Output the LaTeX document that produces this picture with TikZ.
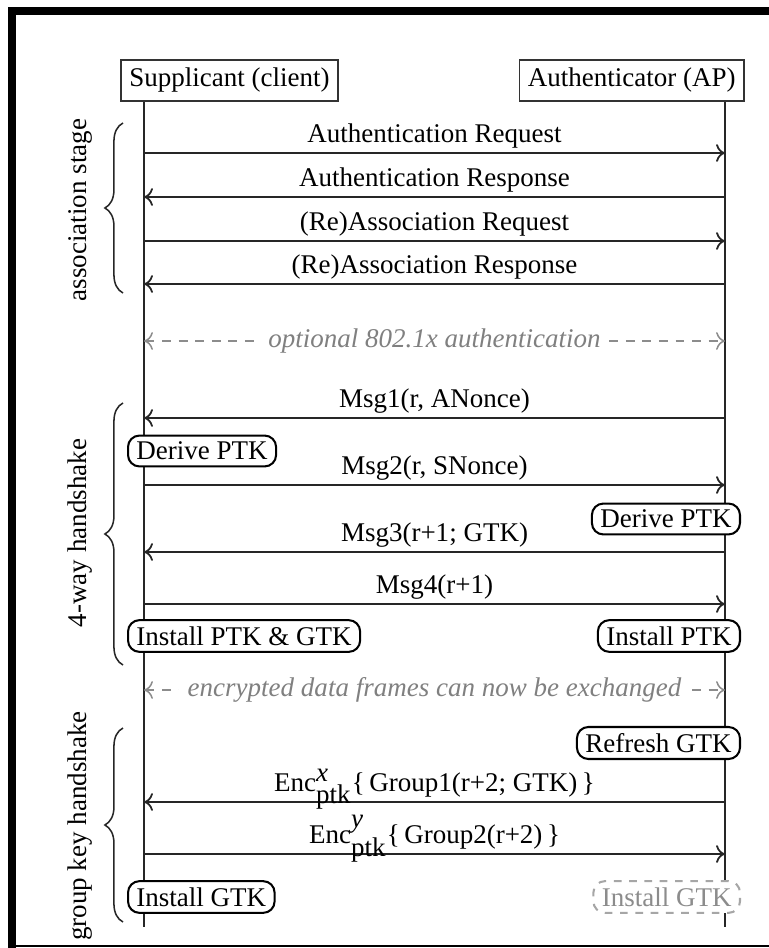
\documentclass[tikz,border=0pt]{standalone}
\usepackage{fontspec}
\setmainfont{Liberation Serif}
\usetikzlibrary{arrows.meta, positioning, decorations.pathreplacing, calc}

\newcommand{\seqfont}{\fontsize{10.6}{12}\selectfont}

\begin{document}
\begin{tikzpicture}[
  x=0.0138cm, y=-0.0138cm,
  actor/.style={rectangle, draw=black!80, line width=0.7pt, fill=white,
                minimum height=0.52cm, inner xsep=3.3pt, font=\seqfont},
  stepbox/.style={rectangle, draw, rounded corners=4.5pt, line width=0.8pt,
                  fill=white, inner xsep=3.3pt, inner ysep=2.5pt, font=\seqfont},
  ghostbox/.style={stepbox, draw=black!35, dashed, text=black!45},
  life/.style={line width=0.7pt, black!85},
  msg/.style={-{To[length=3.5pt, width=7pt]}, line width=0.7pt, black!85},
  lbl/.style={above, inner sep=1.6pt, font=\seqfont, text=black, text depth=2.3pt},
  note/.style={{To[length=3.5pt, width=7pt]}-{To[length=3.5pt, width=7pt]},
               dash pattern=on 3.5pt off 3pt, black!45, line width=0.6pt},
  notelbl/.style={fill=white, font=\seqfont\itshape, text=black!50},
  phase/.style={decorate, decoration={brace, amplitude=0.25cm},
                line width=0.6pt, black!85},
  phaselbl/.style={rotate=90, font=\seqfont}
]
\useasboundingbox (0,0) rectangle (769,948);

% frame
\draw[line width=0.11cm] (12,948) -- (12,11) -- (769,11);
\draw[line width=0.03cm] (8,946) -- (769,946);

% lifelines
\coordinate (sup0) at (144,102);
\coordinate (sup1) at (144,927);
\coordinate (ap0) at (725,102);
\coordinate (ap1) at (725,927);
\draw[life] (sup0) -- (sup1);
\draw[life] (ap0) -- (ap1);

\node[actor, anchor=south west] (sup) at (120,102) {Supplicant (client)};
\node[actor, anchor=south east] (ap) at (745,102) {Authenticator (AP)};

% message ends on both lifelines
\foreach \n/\y in {1/153, 2/197, 3/241, 4/284, 5/418, 6/485, 7/552,
                   8/604, 9/802, 10/854, d1/341, d2/690}
{
  \coordinate (s\n) at (144,\y);
  \coordinate (a\n) at (725,\y);
}

% association stage
\draw[msg] (s1) -- node[lbl] {Authentication Request} (a1);
\draw[msg] (a2) -- node[lbl] {Authentication Response} (s2);
\draw[msg] (s3) -- node[lbl] {(Re)Association Request} (a3);
\draw[msg] (a4) -- node[lbl] {(Re)Association Response} (s4);

\draw[note] (sd1) -- node[notelbl] {optional 802.1x authentication} (ad1);

% 4-way handshake
\draw[msg] (a5) -- node[lbl] {Msg1(r, ANonce)} (s5);
\node[stepbox, anchor=west] (drvs) at (127,451) {Derive PTK};
\draw[msg] (s6) -- node[lbl] {Msg2(r, SNonce)} (a6);
\node[stepbox, anchor=east] (drva) at (741,519) {Derive PTK};
\draw[msg] (a7) -- node[lbl] {Msg3(r+1; GTK)} (s7);
\draw[msg] (s8) -- node[lbl] {Msg4(r+1)} (a8);
\node[stepbox, anchor=west] (insts) at (127,636) {Install PTK \& GTK};
\node[stepbox, anchor=east] (insta) at (741,636) {Install PTK};

\draw[note] (sd2) -- node[notelbl] {encrypted data frames can now be exchanged} (ad2);

% group key handshake
\node[stepbox, anchor=east] (refr) at (741,743) {Refresh GTK};
\draw[msg] (a9) -- node[lbl]
  {Enc$^{\textit{x}}_{\textrm{ptk}}$\{\,Group1(r+2; GTK)\,\}} (s9);
\draw[msg] (s10) -- node[lbl]
  {Enc$^{\textit{y}}_{\textrm{ptk}}$\{\,Group2(r+2)\,\}} (a10);
\node[stepbox, anchor=west] (gtks) at (127,897) {Install GTK};
\node[ghostbox, anchor=east] (gtka) at (741,897) {Install GTK};

% phase braces
\coordinate (ph1b) at (123,293);
\coordinate (ph1t) at (123,123);
\coordinate (ph2b) at (123,665);
\coordinate (ph2t) at (123,403);
\coordinate (ph3b) at (123,922);
\coordinate (ph3t) at (123,728);
\draw[phase] (ph1b) -- (ph1t);
\draw[phase] (ph2b) -- (ph2t);
\draw[phase] (ph3b) -- (ph3t);
\node[phaselbl] (assoc) at (80,210) {association stage};
\node[phaselbl] (fourway) at (80,533) {4-way handshake};
\node[phaselbl] (groupkey) at (80,826) {group key handshake};
\end{tikzpicture}
\end{document}
